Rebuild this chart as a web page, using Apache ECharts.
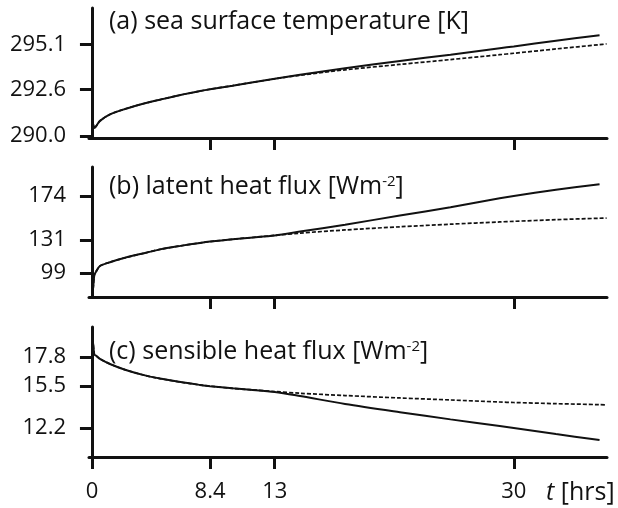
<!DOCTYPE html>
<html>
<head>
<meta charset="utf-8">
<script src="https://cdn.jsdelivr.net/npm/echarts@6/dist/echarts.min.js"></script>
<style>
  html, body { margin: 0; padding: 0; background: #fff; }
  #chart { width: 618px; height: 508px; }
</style>
</head>
<body>
<div id="chart"></div>
<script>
// Time axis (hours) for the coupled run (solid) and the reference run (dashed)
const hoursSolid  = [0, 0.07, 0.17, 0.3, 0.57, 1.28, 2.35, 3.77, 4.84, 6.3, 7.69, 8.4, 10, 11.25, 13, 14.8, 18, 21.9, 25.5, 29, 30, 33, 36.1];
const hoursDashed = [0, 0.07, 0.17, 0.3, 0.57, 1.28, 2.35, 3.77, 4.84, 6.3, 7.69, 8.4, 10, 11.25, 13, 14.8, 18, 21.9, 25.5, 29, 30, 33, 36.1, 36.6];

// (a) sea surface temperature [K]
const sstSolid  = [290.0, 290.7, 290.45, 290.55, 290.84, 291.2, 291.5, 291.82, 292.02, 292.28, 292.5, 292.6, 292.8, 292.96, 293.18, 293.4, 293.77, 294.17, 294.52, 294.88, 294.98, 295.3, 295.6];
const sstDashed = [290.0, 290.7, 290.45, 290.55, 290.84, 291.2, 291.5, 291.82, 292.02, 292.28, 292.5, 292.6, 292.8, 292.96, 293.18, 293.38, 293.68, 293.98, 294.25, 294.52, 294.6, 294.84, 295.08, 295.12];

// (b) latent heat flux [W m-2]
const lhfSolid  = [99, 82.5, 97, 100.5, 105.8, 109.5, 113.8, 118.5, 122, 125.4, 128.3, 129.6, 131.8, 133.4, 135.6, 139.3, 146, 155, 163, 171.7, 174, 180, 185.5];
const lhfDashed = [99, 82.5, 97, 100.5, 105.8, 109.5, 113.8, 118.5, 122, 125.4, 128.3, 129.6, 131.8, 133.4, 135.6, 137.8, 140.9, 144.0, 146.5, 148.7, 149.3, 150.9, 152.3, 152.5];

// (c) sensible heat flux [W m-2]
const shfSolid  = [17.8, 18.98, 18.0, 17.9, 17.65, 17.25, 16.8, 16.35, 16.1, 15.82, 15.6, 15.5, 15.33, 15.22, 15.04, 14.72, 14.1, 13.45, 12.88, 12.36, 12.2, 11.72, 11.25];
const shfDashed = [17.8, 18.98, 18.0, 17.9, 17.65, 17.25, 16.8, 16.35, 16.1, 15.82, 15.6, 15.5, 15.33, 15.22, 15.08, 14.94, 14.76, 14.57, 14.41, 14.25, 14.21, 14.12, 14.04, 14.01];

// Tick positions
const xTicks      = [0, 8.4, 13, 30];
const xTicksUpper = [8.4, 13, 30];
const sstTicks = [290.0, 292.6, 295.1];
const lhfTicks = [99, 131, 174];
const shfTicks = [12.2, 15.5, 17.8];

const FONT = 'Open Sans';
const INK = '#111';

const chart = echarts.init(document.getElementById('chart'), null, { renderer: 'canvas' });

const pairs = (xs, ys) => ys.map((y, i) => [xs[i], y]);

const panelTop = [8, 167, 327];
const panelHeight = 130;

const grids = panelTop.map(top => ({ left: 89, top: top, width: 518, height: panelHeight }));

function xAxisFor(i) {
  const bottom = i === 2;
  return {
    type: 'value', gridIndex: i, min: -0.21, max: 36.63,
    splitLine: { show: false },
    axisLine: { lineStyle: { color: INK, width: 3 } },
    axisTick: { show: true, customValues: bottom ? xTicks : xTicksUpper, length: 12, lineStyle: { color: INK, width: 3 } },
    axisLabel: { show: bottom, customValues: xTicks, margin: 24, fontFamily: FONT, fontSize: 22, color: INK,
                 formatter: v => String(v) }
  };
}

function yAxisFor(i, min, max, ticks, digits) {
  return {
    type: 'value', gridIndex: i, min: min, max: max,
    splitLine: { show: false },
    axisLine: { show: true, lineStyle: { color: INK, width: 3 } },
    axisTick: { show: true, customValues: ticks, length: 12, lineStyle: { color: INK, width: 3 } },
    axisLabel: { customValues: ticks, margin: 23, fontFamily: FONT, fontSize: 22, color: INK,
                 formatter: v => v.toFixed(digits) }
  };
}

function line(i, xs, ys, dashed) {
  return {
    type: 'line', xAxisIndex: i, yAxisIndex: i,
    data: pairs(xs, ys), showSymbol: false, symbol: 'none',
    smooth: 0.3,
    lineStyle: dashed ? { color: INK, width: 1.7, type: [4, 2] } : { color: INK, width: 2 },
    z: dashed ? 2 : 3, silent: true
  };
}

const titleStyle = {
  fontFamily: FONT, fontSize: 25, fontWeight: 'normal', color: INK,
  rich: {
    n: { fontFamily: FONT, fontSize: 25, color: INK },
    sup: { fontFamily: FONT, fontSize: 15, color: INK, verticalAlign: 'top' }
  }
};

chart.setOption({
  animation: false,
  backgroundColor: '#fff',
  title: [
    { text: '(a) sea surface temperature [K]', left: 109, top: 9, padding: 0, textStyle: titleStyle },
    { text: '{n|(b) latent heat flux [Wm}{sup|-2}{n|]}', left: 109, top: 174, padding: 0, textStyle: titleStyle },
    { text: '{n|(c) sensible heat flux [Wm}{sup|-2}{n|]}', left: 109, top: 339, padding: 0, textStyle: titleStyle }
  ],
  grid: grids,
  xAxis: [xAxisFor(0), xAxisFor(1), xAxisFor(2)],
  yAxis: [
    yAxisFor(0, 289.888, 297.118, sstTicks, 1),
    yAxisFor(1, 75.62, 202.2, lhfTicks, 0),
    yAxisFor(2, 9.913, 20.166, shfTicks, 1)
  ],
  graphic: [{
    type: 'text', left: 546, top: 480,
    style: {
      text: '{i|t} [hrs]', fontFamily: FONT, fontSize: 25, fill: INK,
      rich: { i: { fontFamily: FONT, fontSize: 25, fontStyle: 'italic', fill: INK } }
    }
  }],
  series: [
    line(0, hoursDashed, sstDashed, true), line(0, hoursSolid, sstSolid, false),
    line(1, hoursDashed, lhfDashed, true), line(1, hoursSolid, lhfSolid, false),
    line(2, hoursDashed, shfDashed, true), line(2, hoursSolid, shfSolid, false)
  ]
});
</script>
</body>
</html>
